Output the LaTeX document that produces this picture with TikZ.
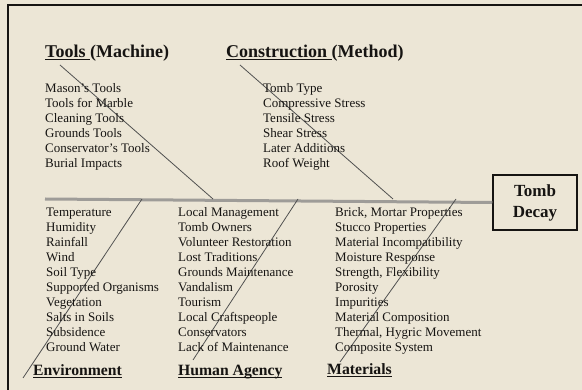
\documentclass[tikz,border=0pt]{standalone}
\usepackage{fontspec}
\setmainfont{Liberation Serif}

\definecolor{paper}{RGB}{236,230,214}
\definecolor{ink}{RGB}{22,20,18}
\definecolor{spinegray}{RGB}{158,156,152}
\definecolor{bonegray}{RGB}{80,80,80}

% underline that keeps to the baseline
\newcommand{\hdul}[1]{\sbox0{#1}\rlap{\rule[-2.2pt]{\wd0}{1pt}}\usebox0}

\tikzset{
  item/.style={anchor=base west, inner sep=0pt, text=ink, font=\fontsize{13}{15}\selectfont},
  tophead/.style={anchor=base west, inner sep=0pt, text=ink, font=\fontsize{18}{20}\selectfont\bfseries},
  lowhead/.style={anchor=base west, inner sep=0pt, text=ink, font=\fontsize{15.7}{18}\selectfont\bfseries},
  bone/.style={draw=bonegray, line width=0.8pt},
  spine/.style={draw=spinegray, line width=3pt},
}

\begin{document}
\begin{tikzpicture}[x=1pt, y=-1pt]
        \fill[paper] (0, 0) rectangle (582, 390);
        \useasboundingbox (0, 0) rectangle (582, 390);
        \draw[ink, line width=2.2pt] (582, 5) -- (8, 5) -- (8, 390);

        % effect
        \node[draw=ink, line width=1.5pt, fill=paper, minimum width=84pt, minimum height=55pt,
              align=center, text=ink, font=\fontsize{17}{21}\selectfont\bfseries,
              inner sep=0pt] (decay) at (535, 202.5) {Tomb\\Decay};

        % spine and bones
        \coordinate (tail) at (45, 199);
        \draw[spine] (tail) -- (decay.west);
        \coordinate (toolsA) at (60, 65);     \coordinate (toolsB) at (213, 199);
        \coordinate (constA) at (240, 65);    \coordinate (constB) at (393, 199);
        \coordinate (envA) at (23, 378);      \coordinate (envB) at (142, 199);
        \coordinate (humA) at (193, 360);     \coordinate (humB) at (298, 199);
        \coordinate (matA) at (340, 362);     \coordinate (matB) at (456, 199);
        \draw[bone] (toolsA) -- (toolsB);
        \draw[bone] (constA) -- (constB);
        \draw[bone] (envA) -- (envB);
        \draw[bone] (humA) -- (humB);
        \draw[bone] (matA) -- (matB);

        % headings
        \node[tophead] (tools) at (45, 58) {\hdul{Tools\ }(Machine)};
        \node[tophead] (const) at (226, 58) {\hdul{Construction\ }(Method)};
        \node[lowhead] (env) at (33, 376) {\hdul{Environment}};
        \node[lowhead] (hum) at (178, 376) {\hdul{Human Agency}};
        \node[lowhead] (mat) at (327, 375) {\hdul{Materials}};

        % causes
        \foreach \t [count=\i from 0] in {Mason's Tools, Tools for Marble, Cleaning Tools,
            Grounds Tools, Conservator's Tools, Burial Impacts}
            \node[item] (tools\i) at (45, {93+15*\i}) {\t};
        \foreach \t [count=\i from 0] in {Tomb Type, Compressive Stress, Tensile Stress,
            Shear Stress, Later Additions, Roof Weight}
            \node[item] (const\i) at (263, {93+15*\i}) {\t};
        \foreach \t [count=\i from 0] in {Temperature, Humidity, Rainfall, Wind, Soil Type,
            Supported Organisms, Vegetation, Salts in Soils, Subsidence, Ground Water}
            \node[item] (env\i) at (46, {217+15*\i}) {\t};
        \foreach \t [count=\i from 0] in {Local Management, Tomb Owners, Volunteer Restoration,
            Lost Traditions, Grounds Maintenance, Vandalism, Tourism, Local Craftspeople,
            Conservators, Lack of Maintenance}
            \node[item] (hum\i) at (178, {217+15*\i}) {\t};
        \foreach \t [count=\i from 0] in {{Brick, Mortar Properties}, Stucco Properties,
            Material Incompatibility, Moisture Response, {Strength, Flexibility}, Porosity,
            Impurities, Material Composition, {Thermal, Hygric Movement}, Composite System}
            \node[item] (mat\i) at (335, {217+15*\i}) {\t};
    \end{tikzpicture}
\end{document}
